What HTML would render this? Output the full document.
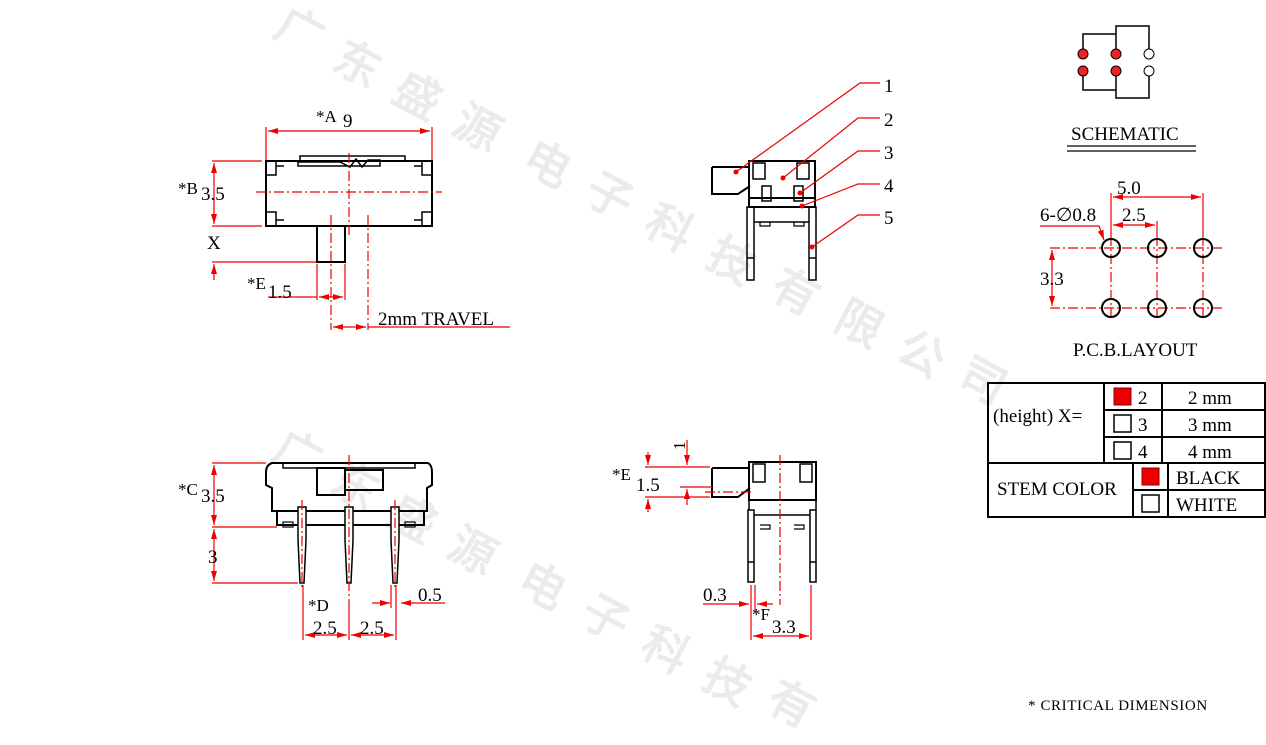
<!DOCTYPE html>
<html><head><meta charset="utf-8"><style>
html,body{margin:0;padding:0;background:#fff;width:1266px;height:745px;overflow:hidden;}
svg{display:block;}
text{font-family:"Liberation Serif",serif;}
.wm{font-family:"Noto Sans CJK SC","WenQuanYi Zen Hei",sans-serif;font-weight:bold;font-size:46px;fill:#ebebeb;}
</style></head><body>
<svg width="1266" height="745" viewBox="0 0 1266 745" xmlns="http://www.w3.org/2000/svg">
<defs>
<marker id="a" viewBox="0 0 10 6" refX="10" refY="3" markerWidth="10" markerHeight="6" orient="auto-start-reverse" markerUnits="userSpaceOnUse"><path d="M0,0 L10,3 L0,6 z" fill="#e00"/></marker>
</defs>
<!-- watermark -->
<g class="wm" text-anchor="middle">
<text transform="translate(292,45) rotate(28)">广</text>
<text transform="translate(350,78) rotate(28)">东</text>
<text transform="translate(410,110) rotate(28)">盛</text>
<text transform="translate(470,142) rotate(28)">源</text>
<text transform="translate(540,178) rotate(28)">电</text>
<text transform="translate(602,210) rotate(28)">子</text>
<text transform="translate(662,242) rotate(28)">科</text>
<text transform="translate(724,275) rotate(28)">技</text>
<text transform="translate(788,306) rotate(28)">有</text>
<text transform="translate(852,338) rotate(28)">限</text>
<text transform="translate(914,368) rotate(28)">公</text>
<text transform="translate(975,395) rotate(28)">司</text>
<text transform="translate(290,468) rotate(28)">广</text>
<text transform="translate(348,500) rotate(28)">东</text>
<text transform="translate(405,533) rotate(28)">盛</text>
<text transform="translate(465,565) rotate(28)">源</text>
<text transform="translate(535,600) rotate(28)">电</text>
<text transform="translate(598,632) rotate(28)">子</text>
<text transform="translate(658,664) rotate(28)">科</text>
<text transform="translate(720,696) rotate(28)">技</text>
<text transform="translate(784,718) rotate(28)">有</text>
</g>

<g fill="none" stroke="#000" stroke-width="2">
<rect x="266" y="161" width="166" height="65"/>
<path d="M300 161 V156 H405 V161" stroke-width="1.5"/>
<path d="M298 162 H340 L350 167 L356 159 L362 167 L368 160 H380 V166 H298 Z" stroke-width="1.5"/>
<rect x="266" y="161" width="10" height="14" stroke-width="1.5"/><rect x="422" y="161" width="10" height="14" stroke-width="1.5"/>
<rect x="266" y="212" width="10" height="14" stroke-width="1.5"/><rect x="422" y="212" width="10" height="14" stroke-width="1.5"/>
<path d="M276 166 H284 M414 166 H422 M276 220 H284 M414 220 H422" stroke-width="1.5"/>
<rect x="317" y="226" width="28" height="36"/>
<rect x="749" y="161" width="66" height="46"/>
<path d="M712 167 H750 M712 167 V194 H738 L750 186"/>
<rect x="753" y="163" width="12" height="16" stroke-width="1.5"/><rect x="797" y="163" width="12" height="16" stroke-width="1.5"/>
<rect x="762" y="186" width="9" height="15" stroke-width="1.5"/><rect x="794" y="186" width="9" height="15" stroke-width="1.5"/>
<path d="M749 198 H815"/>
<rect x="747" y="207" width="7" height="73" stroke-width="1.5"/><rect x="809" y="207" width="7" height="73" stroke-width="1.5"/>
<path d="M754 222 H809 M747 258 H754 M809 258 H816" stroke-width="1.5"/>
<path d="M760 222 V226 H770 V222 M794 222 V226 H804 V222" stroke-width="1.2"/>
<path d="M272 463 H428 Q432 465 432 472 V485 L427 488 V511 H272 V488 L266 485 V472 Q266 465 272 463 Z"/>
<path d="M283 463 V468 H415 V463" stroke-width="1.5"/>
<rect x="317" y="468" width="28" height="27"/><path d="M345 470 H383 V490 H345"/>
<path d="M277 511 V525 H424 V511"/>
<rect x="283" y="522" width="10" height="5" stroke-width="1.2"/><rect x="405" y="522" width="10" height="5" stroke-width="1.2"/>
<path d="M298 507 H306 V540 L304 583 H300 L298 540 Z M345 507 H353 V540 L351 583 H347 L345 540 Z M391 507 H399 V540 L397 583 H393 L391 540 Z" stroke-width="1.5" fill="#fff"/>
<rect x="749" y="462" width="67" height="38"/>
<path d="M712 468 H750 M712 468 V497 H738 L750 488"/>
<rect x="753" y="464" width="12" height="18" stroke-width="1.5"/><rect x="800" y="464" width="12" height="18" stroke-width="1.5"/>
<rect x="748" y="510" width="6" height="72" stroke-width="1.5"/><rect x="810" y="510" width="6" height="72" stroke-width="1.5"/>
<path d="M749 500 V510 M816 500 V510 M754 515 H810 M748 562 H754 M810 562 H816" stroke-width="1.5"/>
<path d="M760 525 H770 V529 H760 M794 525 H804 V529 H794" stroke-width="1.2"/>
</g>

<g stroke="#e00" stroke-width="1.2" fill="none">
<path d="M256 192 H442 M349 153 V235 M331 215 V330 M368 215 V330" stroke-dasharray="10,3,2,3"/>
<path d="M266 127 V160 M432 127 V160"/>
<path d="M268 131 H430" marker-start="url(#a)" marker-end="url(#a)"/>
<path d="M212 161 H262 M212 226 H262 M212 262 H316"/>
<path d="M214 163 V224" marker-start="url(#a)" marker-end="url(#a)"/>
<path d="M214 264 V280" marker-start="url(#a)"/>
<path d="M317 264 V300 M345 264 V300"/>
<path d="M268 297 H317"/><path d="M319 297 H343" marker-start="url(#a)" marker-end="url(#a)"/>
<path d="M333 327 H366" marker-start="url(#a)" marker-end="url(#a)"/><path d="M368 327 H510"/>
<path d="M736 172 L860 83 H880 M783 178 L858 118 H880 M800 193 L858 151 H880 M802 206 L858 184 H880 M812 247 L858 215 H880"/>
<path d="M349 455 V600 M302 500 V590 M395 500 V590" stroke-dasharray="10,3,2,3"/>
<path d="M212 463 H266 M212 527 H277 M212 583 H298"/>
<path d="M214 465 V525" marker-start="url(#a)" marker-end="url(#a)"/>
<path d="M214 529 V581" marker-start="url(#a)" marker-end="url(#a)"/>
<path d="M303 585 V640 M349 600 V640 M396 585 V640"/>
<path d="M305 635 H347" marker-start="url(#a)" marker-end="url(#a)"/>
<path d="M351 635 H394" marker-start="url(#a)" marker-end="url(#a)"/>
<path d="M391 585 V608"/>
<path d="M372 603 H390" marker-end="url(#a)"/><path d="M445 603 H401" marker-end="url(#a)"/>
<path d="M780 455 V605 M705 492 H752" stroke-dasharray="10,3,2,3"/>
<path d="M645 467 H710 M645 497 H710 M680 487 H712"/>
<path d="M648 452 V465" marker-end="url(#a)"/><path d="M648 512 V499" marker-end="url(#a)"/>
<path d="M687 440 V465" marker-end="url(#a)"/><path d="M687 505 V489" marker-end="url(#a)"/>
<path d="M751 585 V640 M811 585 V640 M755 585 V612"/>
<path d="M753 636 H809" marker-start="url(#a)" marker-end="url(#a)"/>
<path d="M703 604 H749" marker-end="url(#a)"/><path d="M773 604 H757" marker-end="url(#a)"/>
<path d="M1050 248 H1222 M1050 308 H1222 M1111 236 V320 M1157 236 V320 M1203 236 V320" stroke-dasharray="10,3,2,3"/>
<path d="M1111 193 V236 M1157 221 V236 M1203 193 V236"/>
<path d="M1113 197 H1201" marker-start="url(#a)" marker-end="url(#a)"/>
<path d="M1113 225 H1155" marker-start="url(#a)" marker-end="url(#a)"/>
<path d="M1052 250 V306" marker-start="url(#a)" marker-end="url(#a)"/>
<path d="M1040 226 H1099 L1104 240" marker-end="url(#a)"/>
</g>

<g fill="none" stroke="#000" stroke-width="2">
<circle cx="1111" cy="248" r="9"/><circle cx="1157" cy="248" r="9"/><circle cx="1203" cy="248" r="9"/>
<circle cx="1111" cy="308" r="9"/><circle cx="1157" cy="308" r="9"/><circle cx="1203" cy="308" r="9"/>
</g>
<g fill="none" stroke="#000" stroke-width="1.5">
<path d="M1083 49 V34 H1116 V49 M1116 34 V26 H1149 V49 M1083 76 V90 H1116 V76 M1116 90 V98 H1149 V76"/>
<path d="M1067 146 H1196 M1067 151 H1196" stroke-width="1.2"/>
</g>
<g stroke="#000" stroke-width="1">
<circle cx="1083" cy="54" r="5" fill="#e22"/><circle cx="1116" cy="54" r="5" fill="#e22"/><circle cx="1149" cy="54" r="5" fill="#fff"/>
<circle cx="1083" cy="71" r="5" fill="#e22"/><circle cx="1116" cy="71" r="5" fill="#e22"/><circle cx="1149" cy="71" r="5" fill="#fff"/>
</g>
<g fill="#e00"><circle cx="736" cy="172" r="2.5"/><circle cx="783" cy="178" r="2.5"/><circle cx="800" cy="193" r="2.5"/><circle cx="802" cy="206" r="2.5"/><circle cx="812" cy="247" r="2.5"/></g>

<g fill="none" stroke="#000" stroke-width="2">
<rect x="988" y="383" width="277" height="134"/>
<path d="M988 463 H1265 M1104 410 H1265 M1104 437 H1265 M1133 490 H1265 M1104 383 V463 M1162 383 V463 M1133 463 V517 M1168 463 V517"/>
<rect x="1114" y="415" width="17" height="17" stroke-width="1.5"/><rect x="1114" y="442" width="17" height="17" stroke-width="1.5"/>
<rect x="1142" y="495" width="17" height="17" stroke-width="1.5"/>
</g>
<rect x="1114" y="388" width="17" height="17" fill="#e00" stroke="#800" stroke-width="1"/>
<rect x="1142" y="468" width="17" height="17" fill="#e00" stroke="#800" stroke-width="1"/>

<g font-size="19" fill="#000">
<text x="316" y="122" font-size="17">*A</text><text x="343" y="127">9</text>
<text x="178" y="194" font-size="17">*B</text><text x="201" y="200">3.5</text>
<text x="207" y="249">X</text>
<text x="247" y="289" font-size="17">*E</text><text x="268" y="298">1.5</text>
<text x="378" y="325">2mm TRAVEL</text>
<text x="884" y="92">1</text><text x="884" y="126">2</text><text x="884" y="159">3</text><text x="884" y="192">4</text><text x="884" y="224">5</text>
<text x="178" y="495" font-size="17">*C</text><text x="201" y="502">3.5</text>
<text x="208" y="563">3</text>
<text x="308" y="611" font-size="17">*D</text>
<text x="313" y="634">2.5</text><text x="360" y="634">2.5</text>
<text x="418" y="601">0.5</text>
<text x="612" y="480" font-size="17">*E</text><text x="636" y="491">1.5</text>
<text transform="translate(685,450) rotate(-90)" font-size="17">1</text>
<text x="703" y="601">0.3</text>
<text x="752" y="620" font-size="17">*F</text><text x="772" y="633">3.3</text>
<text x="1071" y="140">SCHEMATIC</text>
<text x="1117" y="194">5.0</text>
<text x="1122" y="221">2.5</text>
<text x="1040" y="221">6-∅0.8</text>
<text x="1040" y="285">3.3</text>
<text x="1073" y="356">P.C.B.LAYOUT</text>
<text x="993" y="422">(height)  X=</text>
<text x="1138" y="404">2</text><text x="1138" y="431">3</text><text x="1138" y="458">4</text>
<text x="1188" y="404">2 mm</text><text x="1188" y="431">3 mm</text><text x="1188" y="458">4 mm</text>
<text x="997" y="495">STEM COLOR</text>
<text x="1176" y="484">BLACK</text><text x="1176" y="511">WHITE</text>
<text x="1028" y="710" font-size="15" letter-spacing="0.6">* CRITICAL  DIMENSION</text>
</g>
</svg>
</body></html>
